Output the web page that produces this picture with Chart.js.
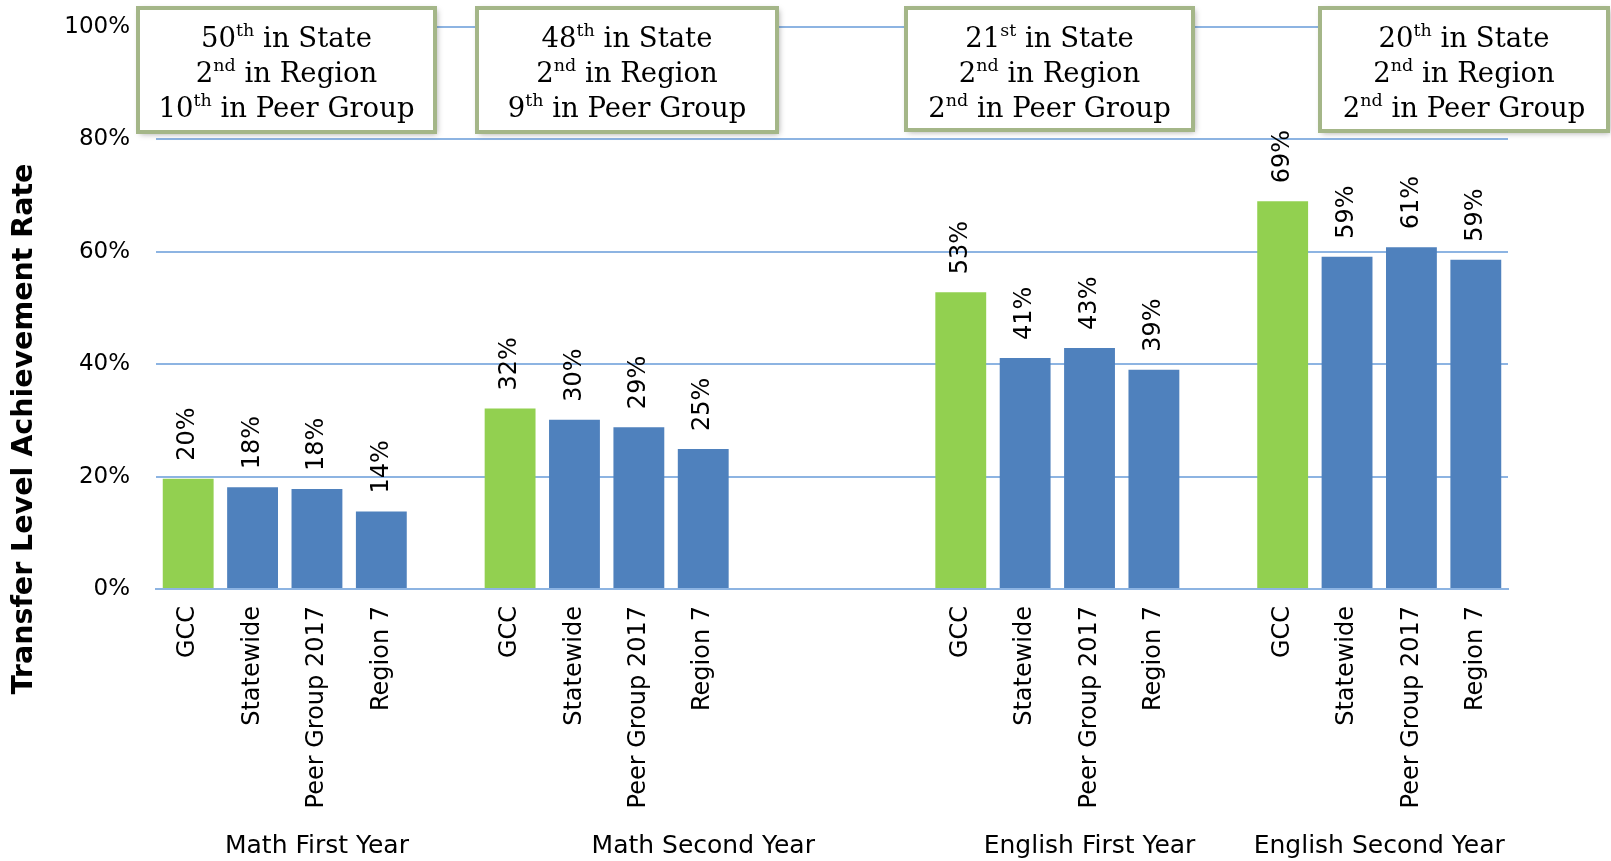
<!DOCTYPE html>
<html>
<head>
<meta charset="utf-8">
<script src="https://cdn.jsdelivr.net/npm/chart.js@4.4.1/dist/chart.umd.min.js"></script>
<style>
  body { margin: 0; background: #fff; }
  #chartContainer { width: 1611px; height: 861px; }
</style>
</head>
<body>
<div id="chartContainer"><canvas id="main-chart" width="1611" height="861"></canvas></div>
<script>
// chart values
const groups = ['Math First Year', 'Math Second Year', 'English First Year', 'English Second Year']
const entities = ['GCC', 'Statewide', 'Peer Group 2017', 'Region 7']
const mathFirstYear = [19.6, 18.1, 17.8, 13.8]
const mathSecondYear = [32.1, 30.1, 28.8, 24.9]
const englishFirstYear = [52.8, 41.1, 42.9, 39.0]
const englishSecondYear = [69.0, 59.1, 60.8, 58.6]
const stateRank = [50, 48, 21, 20]
const regionRank = [2, 2, 2, 2]
const peerRank = [10, 9, 2, 2]
const yTicks = [0, 20, 40, 60, 80, 100]

// empty slots after each group on the category axis
const gapAfter = [1, 3, 1, 0]

const GREEN = '#92D050'
const BLUE = '#4F81BD'
const GRID = '#8DB4E2'
const SANS = '"DejaVu Sans", Verdana, sans-serif'
const SERIF = '"DejaVu Serif", serif'

let series = [mathFirstYear, mathSecondYear, englishFirstYear, englishSecondYear]
let labels = [], values = [], colors = [], spans = []
series.forEach(function(vals, g) {
    let start = labels.length
    vals.forEach(function(v, i) {
        labels.push(entities[i])
        values.push(v)
        colors.push(i == 0 ? GREEN : BLUE)
    })
    for (let k = 0; k < gapAfter[g]; k++) {
        labels.push('')
        values.push(null)
        colors.push(BLUE)
    }
    spans.push([start, labels.length - 1])
})

function ordinal(n) {
    let t = n % 100
    if (t >= 11 && t <= 13) return 'th'
    return { 1: 'st', 2: 'nd', 3: 'rd' }[n % 10] || 'th'
}

// rank boxes: outer edges [left, top, right, bottom]
const boxRects = [[136, 6, 437, 134], [475, 6, 779, 134], [904, 6, 1195, 132], [1318, 6, 1610, 133]]

function drawRankLine(ctx, cx, baseline, num, rest) {
    let big = '27.5px ' + SERIF
    let small = '17.5px ' + SERIF
    let n = String(num), sup = ordinal(num)
    ctx.font = big
    let wn = ctx.measureText(n).width
    let wr = ctx.measureText(rest).width
    ctx.font = small
    let ws = ctx.measureText(sup).width
    let x = cx - (wn + ws + wr) / 2
    ctx.textAlign = 'left'
    ctx.textBaseline = 'alphabetic'
    ctx.font = big
    ctx.fillText(n, x, baseline)
    ctx.font = small
    ctx.fillText(sup, x + wn, baseline - 11)
    ctx.font = big
    ctx.fillText(rest, x + wn + ws, baseline)
}

const extras = {
    id: 'extras',
    afterDatasetsDraw(chart) {
        let ctx = chart.ctx
        let meta = chart.getDatasetMeta(0)
        ctx.save()
        ctx.font = '24px ' + SANS
        ctx.fillStyle = '#000'
        ctx.textAlign = 'left'
        ctx.textBaseline = 'middle'
        meta.data.forEach(function(bar, i) {
            if (values[i] == null) return
            ctx.save()
            ctx.translate(bar.x, bar.y - 18)
            ctx.rotate(-Math.PI / 2)
            ctx.fillText(Math.round(values[i]) + '%', 0, 0)
            ctx.restore()
        })
        ctx.restore()
    },
    afterDraw(chart) {
        let ctx = chart.ctx
        let xs = chart.scales.x
        ctx.save()
        ctx.fillStyle = '#000'

        // group labels under the category labels
        ctx.font = '25px ' + SANS
        ctx.textAlign = 'center'
        ctx.textBaseline = 'alphabetic'
        spans.forEach(function(sp, g) {
            let cx = (xs.getPixelForValue(sp[0]) + xs.getPixelForValue(sp[1])) / 2
            ctx.fillText(groups[g], cx, chart.height - 8)
        })

        // y axis title
        ctx.save()
        ctx.translate(25, 429)
        ctx.rotate(-Math.PI / 2)
        ctx.font = 'bold 28.5px ' + SANS
        ctx.textAlign = 'center'
        ctx.textBaseline = 'middle'
        ctx.fillText('Transfer Level Achievement Rate', 0, 0)
        ctx.restore()

        // rank boxes
        boxRects.forEach(function(r, i) {
            let x = r[0] + 2, y = r[1] + 2, w = r[2] - r[0] - 4, h = r[3] - r[1] - 4
            ctx.save()
            ctx.shadowColor = 'rgba(0,0,0,0.35)'
            ctx.shadowBlur = 6
            ctx.shadowOffsetX = 2
            ctx.shadowOffsetY = 2
            ctx.fillStyle = '#fff'
            ctx.fillRect(x, y, w, h)
            ctx.restore()
            ctx.lineWidth = 4
            ctx.strokeStyle = '#A4B688'
            ctx.strokeRect(x, y, w, h)
            ctx.fillStyle = '#000'
            let cx = (r[0] + r[2]) / 2
            drawRankLine(ctx, cx, r[1] + 41, stateRank[i], ' in State')
            drawRankLine(ctx, cx, r[1] + 76, regionRank[i], ' in Region')
            drawRankLine(ctx, cx, r[1] + 111, peerRank[i], ' in Peer Group')
        })
        ctx.restore()
    }
}

let source = document.getElementById('main-chart')
let repChart = new Chart(source, {
    type: 'bar',
    data: {
        labels: labels,
        datasets: [{
            data: values,
            backgroundColor: colors,
            borderWidth: 0,
            barPercentage: 0.79,
            categoryPercentage: 1.0
        }]
    },
    options: {
        responsive: false,
        devicePixelRatio: 1,
        animation: false,
        layout: { padding: { top: 27, right: 103, left: 0, bottom: 0 } },
        plugins: {
            legend: { display: false },
            tooltip: { enabled: false }
        },
        scales: {
            x: {
                grid: { display: false, drawTicks: false },
                border: { color: GRID, width: 2 },
                ticks: {
                    autoSkip: false,
                    minRotation: 90,
                    maxRotation: 90,
                    padding: 17,
                    color: '#000',
                    font: { family: SANS, size: 24 }
                },
                afterFit: function(s) { s.height = 272 }
            },
            y: {
                min: 0,
                max: 100,
                grid: { color: GRID, lineWidth: 2, drawTicks: false },
                border: { display: false },
                ticks: {
                    padding: 26,
                    color: '#000',
                    font: { family: SANS, size: 23 },
                    callback: function(v) { return v + '%' }
                },
                afterBuildTicks: function(s) { s.ticks = yTicks.map(function(v) { return { value: v } }) },
                afterFit: function(s) {
                    s.width = 156
                    s.paddingTop = 0
                    s.paddingBottom = 0
                }
            }
        }
    },
    plugins: [extras]
})
</script>
</body>
</html>
